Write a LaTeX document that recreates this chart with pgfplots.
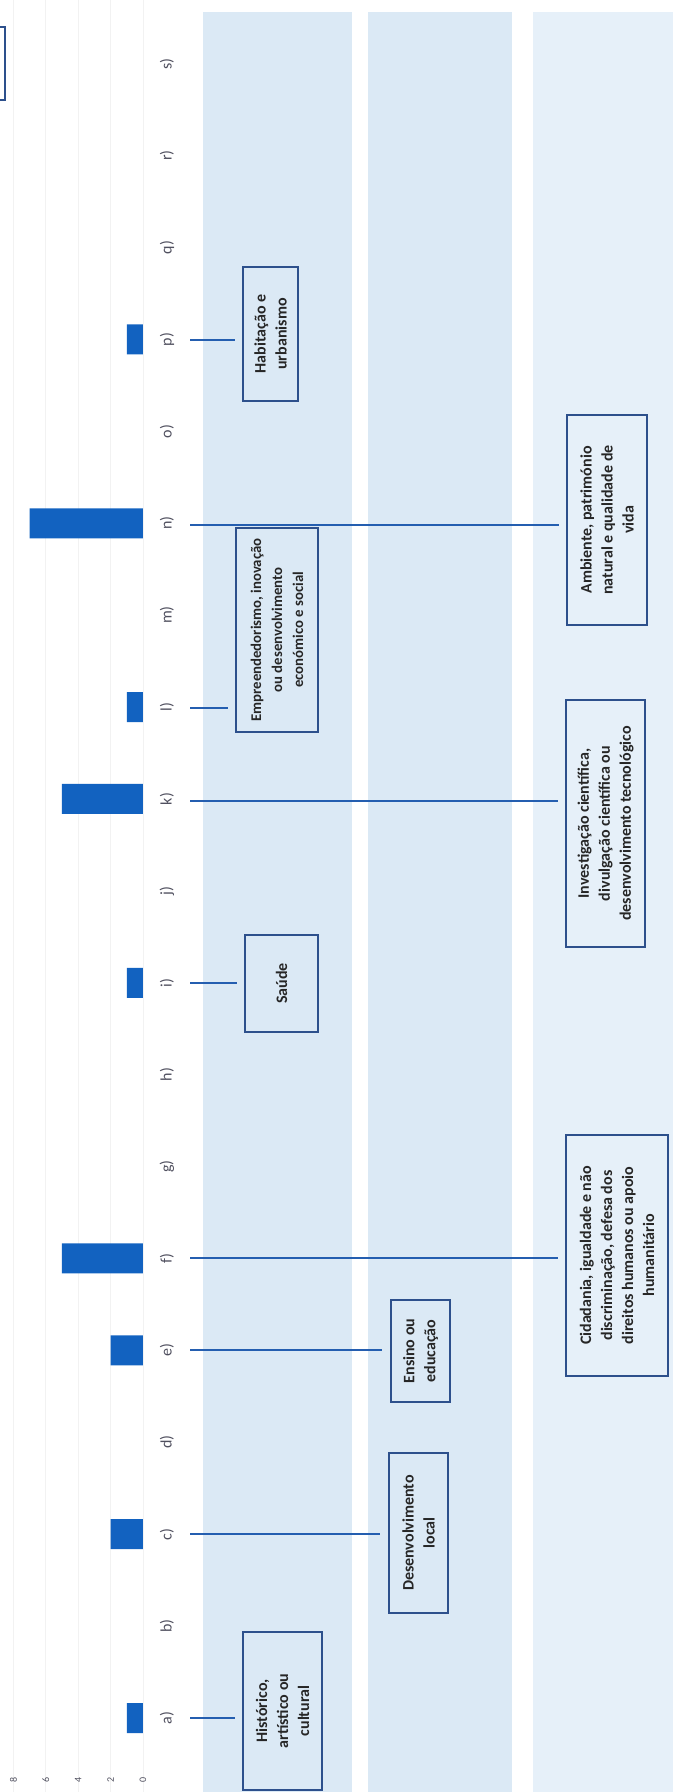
\documentclass[border=0pt]{standalone}
\usepackage{pgfplots}
\pgfplotsset{compat=1.18}
\usepackage{fontspec}
\setmainfont{Carlito}

\definecolor{barblue}{RGB}{18,98,192}
\definecolor{lineblue}{RGB}{36,94,176}
\definecolor{boxblue}{RGB}{45,80,140}
\definecolor{bandA}{RGB}{219,233,245}
\definecolor{bandB}{RGB}{230,240,249}
\definecolor{labgray}{RGB}{80,80,95}

\begin{document}
\begin{tikzpicture}
% background bands (pixel units, origin top left)
\begin{scope}[yshift=896pt, x=0.5pt, y=-0.5pt]
  \fill[bandA] (203,12) rectangle (352,1792);
  \fill[bandA] (368,12) rectangle (512,1792);
  \fill[bandB] (533,12) rectangle (673,1792);
\end{scope}

\begin{axis}[
    at={(0,0)}, anchor=south west,
    scale only axis, width=336.5pt, height=896pt,
    xbar, bar width=15pt, x dir=reverse,
    xmin=-32.72, xmax=8.827, ymin=-0.805, ymax=18.694,
    axis line style={draw=none},
    major tick length=0pt,
    xtick={0,2,4,6,8},
    xmajorgrids, major grid style={black!5},
    ytick={0,...,18},
    yticklabels={a),b),c),d),e),f),g),h),i),j),k),l),m),n),o),p),q),r),s)},
    yticklabel pos=lower,
    xticklabel shift=-6pt,
    yticklabel shift=-83.5pt,
    xticklabel style={rotate=90, anchor=center, font=\fontsize{5}{6}\selectfont, text=labgray},
    yticklabel style={rotate=90, anchor=center, font=\fontsize{8}{9}\selectfont, text=labgray},
    /pgf/number format/assume math mode=true,
    clip=false,
]
\addplot[fill=barblue, draw=none] coordinates {
    (1,0) (2,2) (2,4) (5,5) (1,8) (5,10) (1,11) (7,13) (1,15)
};
\end{axis}

% annotation boxes and connectors (pixel units)
\begin{scope}[yshift=896pt, x=0.5pt, y=-0.5pt,
    conn/.style={lineblue, line width=1pt},
    bx/.style={draw=boxblue, line width=0.8pt},
    bt/.style={rotate=90, align=center, inner sep=0pt,
               font=\fontsize{8}{10.5}\selectfont\bfseries, text=black!85}]
  % a)
  \draw[conn] (190,1718) -- (235,1718);
  \draw[bx] (243,1632) rectangle (322,1790);
  \node[bt] at (282.5,1711) {Histórico,\\artístico ou\\cultural};
  % c)
  \draw[conn] (190,1534) -- (380,1534);
  \draw[bx] (389,1453) rectangle (448,1613);
  \node[bt] at (418.5,1533) {Desenvolvimento\\local};
  % e)
  \draw[conn] (190,1350) -- (382,1350);
  \draw[bx] (391,1300) rectangle (450,1402);
  \node[bt] at (420.5,1351) {Ensino ou\\educação};
  % f)
  \draw[conn] (190,1258) -- (558,1258);
  \draw[bx] (566,1135) rectangle (668,1376);
  \node[bt] at (617,1255.5) {Cidadania, igualdade e não\\discriminação, defesa dos\\direitos humanos ou apoio\\humanitário};
  % i)
  \draw[conn] (190,983) -- (237,983);
  \draw[bx] (245,935) rectangle (318,1032);
  \node[bt] at (281.5,983.5) {Saúde};
  % k)
  \draw[conn] (190,801) -- (558,801);
  \draw[bx] (566,700) rectangle (645,947);
  \node[bt] at (605.5,823.5) {Investigação científica,\\divulgação científica ou\\desenvolvimento tecnológico};
  % l)
  \draw[conn] (190,708) -- (228,708);
  \draw[bx] (236,528) rectangle (318,732);
  \node[bt, font=\fontsize{7.4}{10.5}\selectfont\bfseries] at (277,630) {Empreendedorismo, inovação\\ou desenvolvimento\\económico e social};
  % n)
  \draw[conn] (190,525) -- (559,525);
  \draw[bx] (567,415) rectangle (647,625);
  \node[bt] at (607,520) {Ambiente, património\\natural e qualidade de\\vida};
  % p)
  \draw[conn] (190,340) -- (235,340);
  \draw[bx] (243,267) rectangle (298,401);
  \node[bt] at (270.5,334) {Habitação e\\urbanismo};
  % partial box at the top left edge
  \draw[bx] (-10,27) rectangle (5,100);
\end{scope}

\pgfresetboundingbox
\useasboundingbox (0,0) rectangle (336.5pt,896pt);
\end{tikzpicture}
\end{document}
